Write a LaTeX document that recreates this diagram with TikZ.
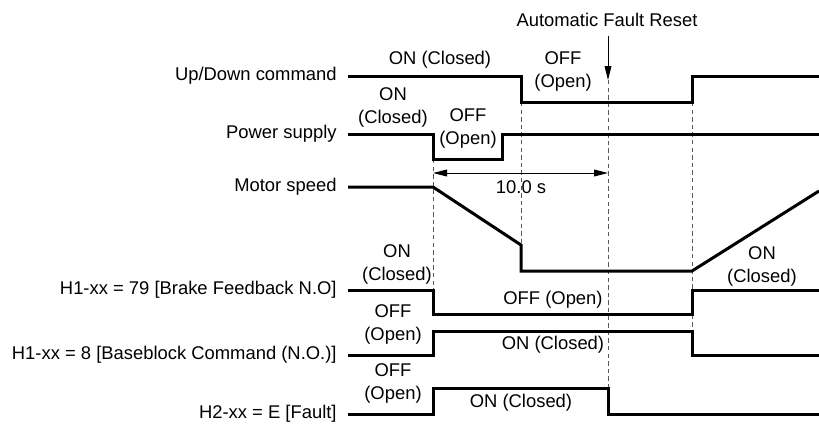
\documentclass[tikz,border=0pt]{standalone}
\usepackage{fontspec}
\setmainfont{Liberation Sans}
\usetikzlibrary{arrows.meta, positioning}

\begin{document}
\begin{tikzpicture}[
            x=0.5pt, y=-0.5pt,
            font=\fontsize{9.2}{11.5}\selectfont,
            signame/.style={anchor=east, inner sep=0pt},
            state/.style={align=center, inner sep=0pt},
            sig/.style={line width=1.5pt, line join=miter},
            guide/.style={black!65, line width=0.45pt, dash pattern=on 2.2pt off 1.6pt},
            dim/.style={{Triangle[length=7pt, width=3.4pt]}-{Triangle[length=7pt, width=3.4pt]}, line width=0.45pt},
            resetarr/.style={-{Triangle[length=7pt, width=3.4pt]}, line width=0.45pt}
        ]
            \useasboundingbox (0,0) rectangle (819,424);

            \node[signame] (updown) at (337,76) {Up/Down command};
            \node[signame] (power) at (337,134) {Power supply};
            \node[signame] (speed) at (337,187) {Motor speed};
            \node[signame] (brake) at (337,290) {H1-xx = 79 [Brake Feedback N.O]};
            \node[signame] (bb) at (337,355) {H1-xx = 8 [Baseblock Command (N.O.)]};
            \node[signame] (fault) at (337,414) {H2-xx = E [Fault]};

            \draw[guide] (433,159) -- (433,290);
            \draw[guide] (521,102) -- (521,245);
            \draw[guide] (608,80) -- (608,388);
            \draw[guide] (692,102) -- (692,331);

            \draw[sig] (348,76) -- (521,76) -- (521,102) -- (692,102) -- (692,76) -- (819,76);
            \draw[sig] (348,134) -- (433,134) -- (433,159) -- (502,159) -- (502,134) -- (819,134);
            \draw[sig] (348,187) -- (433,187) -- (521,245) -- (521,271) -- (692,271) -- (819,191);
            \draw[sig] (348,290) -- (433,290) -- (433,314) -- (692,314) -- (692,290) -- (819,290);
            \draw[sig] (348,355) -- (433,355) -- (433,331) -- (692,331) -- (692,355) -- (819,355);
            \draw[sig] (348,414) -- (433,414) -- (433,388) -- (608,388) -- (608,414) -- (819,414);

            \node[state] (reset) at (607,20) {Automatic Fault Reset};
            \coordinate (resetTop) at (608,36);
            \coordinate (resetTip) at (608,80);
            \draw[resetarr] (resetTop) -- (resetTip);

            \coordinate (tStart) at (433,173);
            \coordinate (tEnd) at (608,173);
            \draw[dim] (tStart) -- (tEnd);
            \node[state] (time) at (521,187) {10.0 s};

            \node[state] (udOn) at (440,60) {ON (Closed)};
            \node[state] (udOff) at (563,71.5) {OFF\\(Open)};
            \node[state] (psOn) at (393,107) {ON\\(Closed)};
            \node[state] (psOff) at (468,128.5) {OFF\\(Open)};
            \node[state] (brOn) at (397,264.5) {ON\\(Closed)};
            \node[state] (brOff) at (553,300) {OFF (Open)};
            \node[state] (brOnB) at (762,266) {ON\\(Closed)};
            \node[state] (bbOff) at (393,324) {OFF\\(Open)};
            \node[state] (bbOn) at (553,345) {ON (Closed)};
            \node[state] (ftOff) at (393,383) {OFF\\(Open)};
            \node[state] (ftOn) at (521,403) {ON (Closed)};
        \end{tikzpicture}
\end{document}
